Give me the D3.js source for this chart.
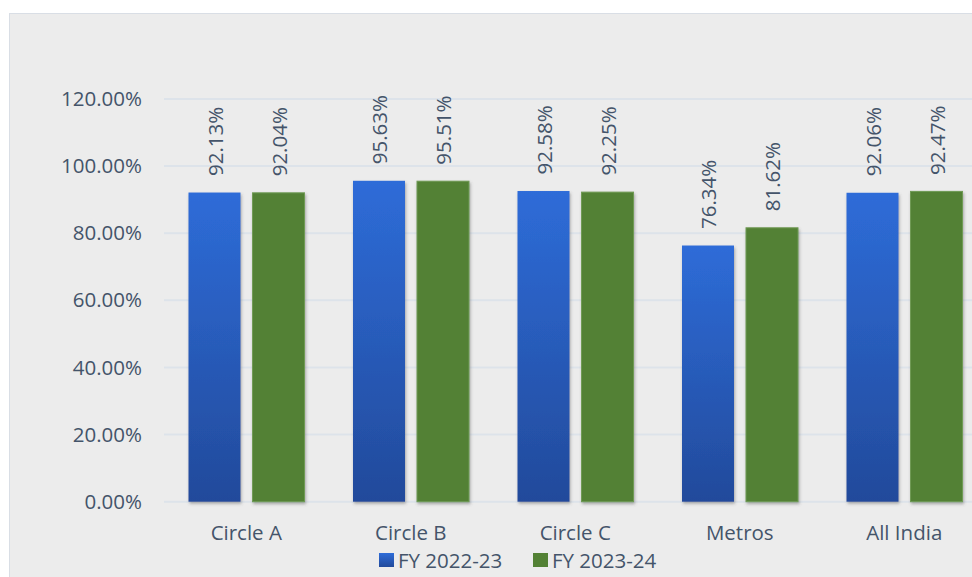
<!DOCTYPE html>
<html>
<head>
<meta charset="utf-8">
<script src="https://cdn.jsdelivr.net/npm/d3@7"></script>
<style>
  body { margin: 0; background: #ffffff; }
  svg { display: block; font-family: 'Open Sans', sans-serif; }
</style>
</head>
<body>
<svg id="chart" width="972" height="577"></svg>
<script>
// data
const categories = ['Circle A', 'Circle B', 'Circle C', 'Metros', 'All India'];
const seriesNames = ['FY 2022-23', 'FY 2023-24'];
const fy2223 = [92.13, 95.63, 92.58, 76.34, 92.06];
const fy2324 = [92.04, 95.51, 92.25, 81.62, 92.47];
const yTicks = [0, 20, 40, 60, 80, 100, 120];

const seriesValues = [fy2223, fy2324];
const rows = categories.map(function (c, i) {
    return { cat: c, vals: seriesValues.map(function (s, j) { return { key: seriesNames[j], v: s[i] }; }) };
});

const textColor = '#44546a';
const fontSize = '20.5px';

const svg = d3.select('#chart');

// panel background
svg.append('rect')
    .attr('x', 9.5).attr('y', 13.5)
    .attr('width', 980).attr('height', 580)
    .attr('fill', '#ececec')
    .attr('stroke', '#d9dee5')
    .attr('stroke-width', 1);

const defs = svg.append('defs');
const grad = defs.append('linearGradient')
    .attr('id', 'blueGrad')
    .attr('x1', 0).attr('y1', 0).attr('x2', 0).attr('y2', 1);
grad.append('stop').attr('offset', '0%').attr('stop-color', '#2e6cd8');
grad.append('stop').attr('offset', '100%').attr('stop-color', '#224a9b');

const shadow = defs.append('filter')
    .attr('id', 'barShadow')
    .attr('x', '-20%').attr('y', '-5%').attr('width', '140%').attr('height', '110%');
shadow.append('feDropShadow')
    .attr('dx', 1).attr('dy', 2)
    .attr('stdDeviation', 1.5)
    .attr('flood-color', '#555')
    .attr('flood-opacity', 0.45);

const y = d3.scaleLinear().domain([0, 120]).range([501.7, 99]);
const x0 = d3.scaleBand().domain(categories).range([164, 986.5]);
const x1 = d3.scaleBand().domain(seriesNames).range([24.5, 140.5]).paddingInner(0.1875);
const colors = d3.scaleOrdinal().domain(seriesNames).range(['url(#blueGrad)', '#538135']);
const legendColors = d3.scaleOrdinal().domain(seriesNames).range(['#2a5fc0', '#538135']);

// gridlines
svg.append('g')
    .selectAll('line')
    .data(yTicks)
    .join('line')
    .attr('x1', 164).attr('x2', 972)
    .attr('y1', function (d) { return y(d); })
    .attr('y2', function (d) { return y(d); })
    .attr('stroke', '#dde3ea')
    .attr('stroke-width', 2);

// y axis labels
const yAxis = d3.axisLeft(y)
    .tickValues(yTicks)
    .tickSize(0)
    .tickPadding(0)
    .tickFormat(function (d) { return d3.format('.2f')(d) + '%'; });
const yG = svg.append('g')
    .attr('transform', 'translate(142,0)')
    .call(yAxis);
yG.select('.domain').remove();
yG.selectAll('text')
    .attr('fill', textColor)
    .style('font-size', fontSize)
    .style('font-family', "'Open Sans', sans-serif");

// bars
const groups = svg.append('g')
    .selectAll('g')
    .data(rows)
    .join('g')
    .attr('transform', function (d) { return 'translate(' + x0(d.cat) + ',0)'; });

groups.selectAll('rect')
    .data(function (d) { return d.vals; })
    .join('rect')
    .attr('x', function (d) { return x1(d.key); })
    .attr('y', function (d) { return y(d.v); })
    .attr('width', x1.bandwidth())
    .attr('height', function (d) { return y(0) - y(d.v); })
    .attr('fill', function (d) { return colors(d.key); })
    .attr('stroke', function (d) { return d.key === seriesNames[1] ? '#6f9a55' : 'none'; })
    .attr('stroke-width', 1)
    .attr('filter', 'url(#barShadow)');

// value labels (rotated)
groups.selectAll('text')
    .data(function (d) { return d.vals; })
    .join('text')
    .attr('transform', function (d) {
        return 'translate(' + (x1(d.key) + x1.bandwidth() / 2) + ',' + (y(d.v) - 16.5) + ') rotate(-90)';
    })
    .attr('text-anchor', 'start')
    .attr('dominant-baseline', 'central')
    .attr('fill', textColor)
    .style('font-size', fontSize)
    .text(function (d) { return d3.format('.2f')(d.v) + '%'; });

// category labels
const xAxis = d3.axisBottom(x0).tickSize(0).tickPadding(0);
const xG = svg.append('g')
    .attr('transform', 'translate(0,533)')
    .call(xAxis);
xG.select('.domain').remove();
xG.selectAll('text')
    .attr('dy', '0.35em')
    .attr('fill', textColor)
    .style('font-size', fontSize)
    .style('font-family', "'Open Sans', sans-serif");

// legend
const legendX = [379, 533];
const legend = svg.append('g')
    .selectAll('g')
    .data(seriesNames)
    .join('g')
    .attr('transform', function (d, i) { return 'translate(' + legendX[i] + ',553)'; });
legend.append('rect')
    .attr('width', 15).attr('height', 14)
    .attr('fill', function (d, i) { return i === 0 ? 'url(#blueGrad)' : legendColors(d); });
legend.append('text')
    .attr('x', 19).attr('y', 7)
    .attr('dominant-baseline', 'central')
    .attr('fill', textColor)
    .style('font-size', fontSize)
    .text(function (d) { return d; });
</script>
</body>
</html>
